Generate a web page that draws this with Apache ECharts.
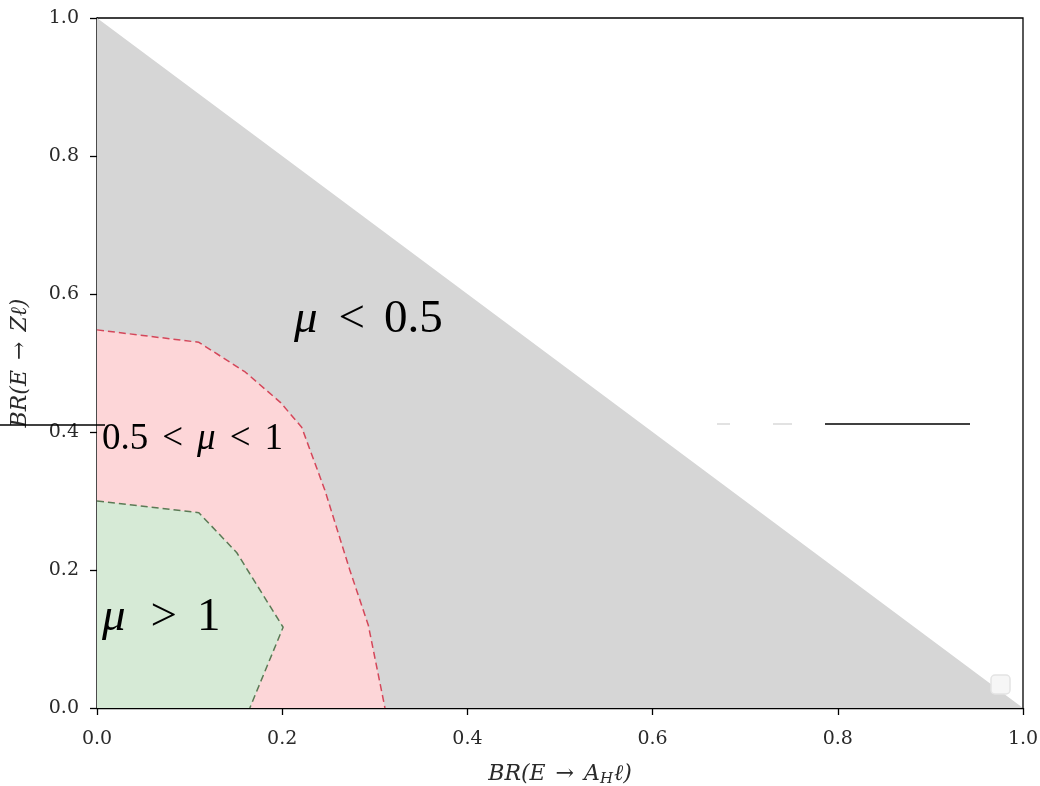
<!DOCTYPE html>
<html>
<head>
<meta charset="utf-8">
<script src="https://cdn.jsdelivr.net/npm/echarts@6/dist/echarts.min.js"></script>
<style>
  html, body { margin: 0; padding: 0; background: #fff; }
  #chart { width: 1040px; height: 786px; }
</style>
</head>
<body>
<div id="chart"></div>
<script>
// region outlines, in data units (x = BR(E->A_H l), y = BR(E->Z l))
const triangle = [[0, 0], [0, 1], [1, 0]];
const redEdge = [[0, 0.548], [0.110, 0.530], [0.160, 0.487], [0.198, 0.443], [0.221, 0.407],
                 [0.246, 0.316], [0.273, 0.200], [0.293, 0.120], [0.311, 0]];
const greenEdge = [[0, 0.300], [0.110, 0.283], [0.151, 0.225], [0.201, 0.117], [0.165, 0]];
const ticks = [0, 0.2, 0.4, 0.6, 0.8, 1.0];

const SERIF = '"Liberation Serif", "DejaVu Serif", serif';
const TICKFONT = '"DejaVu Serif", serif';

function polygonSeries(pts, fill) {
  return {
    type: 'custom',
    silent: true,
    data: [0],
    renderItem: function (params, api) {
      const points = pts.map(p => api.coord(p));
      return { type: 'polygon', shape: { points: points }, style: { fill: fill } };
    },
    z: 1
  };
}

function edgeSeries(pts, color) {
  return {
    type: 'line',
    data: pts,
    showSymbol: false,
    silent: true,
    lineStyle: { color: color, width: 1.5, type: [7, 4] },
    z: 3
  };
}

const chart = echarts.init(document.getElementById('chart'), null, { renderer: 'canvas' });

const axisCommon = {
  type: 'value',
  min: ticks[0],
  max: ticks[ticks.length - 1],
  interval: 0.2,
  axisLine: { show: true, onZero: false, lineStyle: { color: '#000', width: 1.3 } },
  axisTick: { show: true, inside: false, length: 7, lineStyle: { color: '#000', width: 1.3 } },
  splitLine: { show: false },
  axisLabel: {
    color: '#2a2a2a',
    fontFamily: TICKFONT,
    fontSize: 19,
    formatter: v => v.toFixed(1)
  }
};

const math = {
  i: { fontFamily: TICKFONT, fontSize: 22, fontStyle: 'italic', color: '#2a2a2a' },
  r: { fontFamily: TICKFONT, fontSize: 22, color: '#2a2a2a', padding: [0, 10] },
  s: { fontFamily: TICKFONT, fontSize: 15, fontStyle: 'italic', color: '#2a2a2a', padding: [11, 1, 0, 0] }
};

chart.setOption({
  animation: false,
  grid: {
    left: 97, right: 17, top: 18, bottom: 78,
    containLabel: false, outerBoundsMode: 'none',
    show: true, borderColor: '#000', borderWidth: 1.3, backgroundColor: 'transparent'
  },
  xAxis: Object.assign({}, axisCommon, {
    name: '{i|BR(E}{r|→}{i|A}{s|H}{i|ℓ)}',
    nameLocation: 'middle',
    nameGap: 53,
    nameTextStyle: { rich: math },
    axisLabel: Object.assign({}, axisCommon.axisLabel, { margin: 22 })
  }),
  yAxis: Object.assign({}, axisCommon, {
    name: '{i|BR(E}{r|→}{i|Zℓ)}',
    nameLocation: 'middle',
    nameGap: 66,
    nameTextStyle: { rich: math },
    axisLabel: Object.assign({}, axisCommon.axisLabel, { margin: 18 })
  }),
  series: [
    polygonSeries(triangle, '#d6d6d6'),
    polygonSeries([[0, 0]].concat(redEdge), '#fdd6d8'),
    polygonSeries([[0, 0]].concat(greenEdge), '#d6ead6'),
    edgeSeries(redEdge, '#d4475a'),
    edgeSeries(greenEdge, '#5b7a55')
  ],
  graphic: [
    {
      type: 'text', left: 294, top: 296, z: 10,
      style: {
        text: '{m|μ}{o|<}{n|0.5}',
        rich: {
          m: { font: 'italic 47px ' + SERIF, fill: '#000' },
          o: { font: '47px ' + SERIF, fill: '#000', padding: [0, 19, 0, 21] },
          n: { font: '47px ' + SERIF, fill: '#000' }
        }
      }
    },
    {
      type: 'text', left: 102, top: 421, z: 10,
      style: {
        text: '{n|0.5}{o|<}{m|μ}{o|<}{n|1}',
        rich: {
          m: { font: 'italic 37px ' + SERIF, fill: '#000' },
          o: { font: '37px ' + SERIF, fill: '#000', padding: [0, 14, 0, 14] },
          n: { font: '37px ' + SERIF, fill: '#000' }
        }
      }
    },
    {
      type: 'text', left: 102, top: 594, z: 10,
      style: {
        text: '{m|μ}{o|>}{n|1}',
        rich: {
          m: { font: 'italic 47px ' + SERIF, fill: '#000' },
          o: { font: '47px ' + SERIF, fill: '#000', padding: [0, 20, 0, 25] },
          n: { font: '47px ' + SERIF, fill: '#000' }
        }
      }
    },
    // stray strokes left in the source image
    { type: 'line', z: 10, shape: { x1: 0, y1: 425, x2: 105, y2: 425 }, style: { stroke: '#000', lineWidth: 1.3 } },
    { type: 'line', z: 10, shape: { x1: 825, y1: 424, x2: 970, y2: 424 }, style: { stroke: '#000', lineWidth: 1.3 } },
    { type: 'line', z: 10, shape: { x1: 717, y1: 424, x2: 730, y2: 424 }, style: { stroke: '#e2e2e2', lineWidth: 2 } },
    { type: 'line', z: 10, shape: { x1: 773, y1: 424, x2: 792, y2: 424 }, style: { stroke: '#e2e2e2', lineWidth: 2 } },
    { type: 'rect', z: 10, shape: { x: 991, y: 675, width: 19, height: 19, r: 4 }, style: { fill: '#f6f6f6', stroke: '#e4e4e4', lineWidth: 1.5 } }
  ]
});
</script>
</body>
</html>
